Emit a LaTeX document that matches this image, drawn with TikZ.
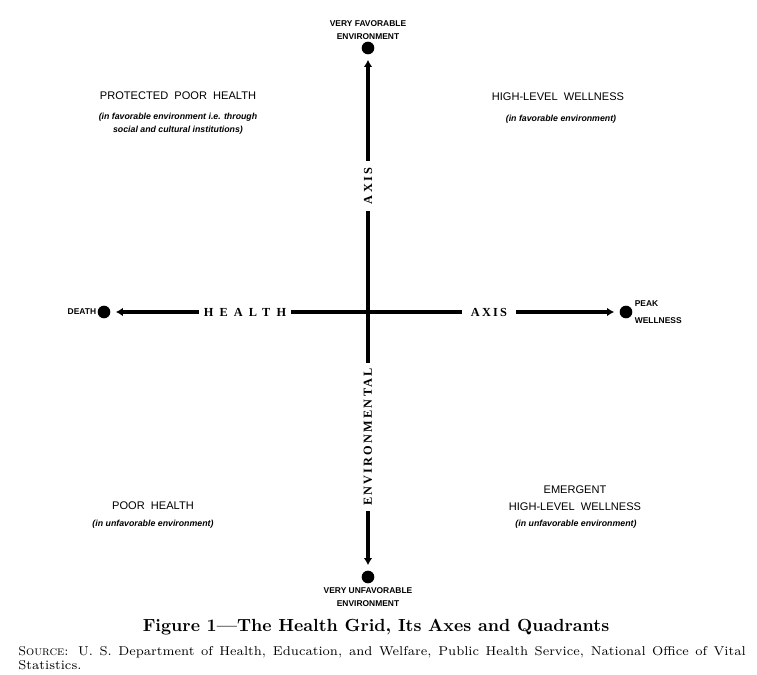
\documentclass[tikz,border=0pt]{standalone}
\usepackage{fontspec}
\usepackage{tikz}
\usetikzlibrary{arrows.meta,positioning}
\newfontfamily\gridsans{Liberation Sans}
\newfontfamily\axisfont[LetterSpace=18]{Liberation Serif}
\newfontfamily\wideaxisfont[LetterSpace=50]{Liberation Serif}

\begin{document}
\begin{tikzpicture}[x=0.02cm,y=-0.02cm,
  pole/.style={circle,fill=black,inner sep=0pt,minimum size=7.2pt},
  axisline/.style={line width=2.5pt,{Latex[length=4pt,width=5pt]}-{Latex[length=4pt,width=5pt]},shorten <=3pt,shorten >=3pt},
  axislabel/.style={fill=white,inner sep=0pt,font=\axisfont\bfseries\fontsize{7}{8}\selectfont},
  wideaxislabel/.style={fill=white,inner sep=0pt,font=\wideaxisfont\bfseries\fontsize{7}{8}\selectfont},
  endlabel/.style={font=\gridsans\bfseries\fontsize{4.8}{7.4}\selectfont,align=center,inner sep=0pt},
  quadhead/.style={font=\gridsans\fontsize{6.3}{9.6}\selectfont,align=center,inner sep=0pt},
  quadnote/.style={font=\gridsans\bfseries\itshape\fontsize{5}{7.4}\selectfont,align=center,inner sep=0pt}]
\useasboundingbox (0,0) rectangle (757,675);

\node[pole] (top) at (368,48) {};
\node[pole] (bottom) at (368,577) {};
\node[pole] (death) at (104,312) {};
\node[pole] (peak) at (626,312) {};
\draw[axisline] (death) -- (peak);
\draw[axisline] (top) -- (bottom);

\node[wideaxislabel,inner xsep=3pt] (health) at (245,312) {HEALTH};
\node[axislabel,inner xsep=5pt] (haxis) at (489,312) {AXIS};
\node[axislabel,rotate=90,inner xsep=4pt] (vaxis) at (368,186) {AXIS};
\node[axislabel,rotate=90,inner xsep=3pt] (env) at (368,437) {ENVIRONMENTAL};

\node[endlabel,above=1pt of top] (toplbl) {VERY FAVORABLE\\ENVIRONMENT};
\node[endlabel,below=2pt of bottom] (bottomlbl) {VERY UNFAVORABLE\\ENVIRONMENT};
\node[endlabel,left=0.5pt of death] (deathlbl) {DEATH};
\node[endlabel,align=left,anchor=west,font=\gridsans\bfseries\fontsize{4.8}{9.6}\selectfont] (peaklbl) at ([xshift=1pt]peak.east) {PEAK\\WELLNESS};

\node[quadhead] (pph) at (178,96) {PROTECTED\ \ POOR\ \ HEALTH};
\node[quadnote] (pphnote) at (178,124) {(in favorable environment i.e. through\\social and cultural institutions)};
\node[quadhead] (hlw) at (558,97) {HIGH-LEVEL\ \ WELLNESS};
\node[quadnote] (hlwnote) at (561,119) {(in favorable environment)};
\node[quadhead] (ph) at (153,506) {POOR\ \ HEALTH};
\node[quadnote] (phnote) at (153,524) {(in unfavorable environment)};
\node[quadhead] (ehlw) at (575,498) {EMERGENT\\HIGH-LEVEL\ \ WELLNESS};
\node[quadnote] (ehlwnote) at (576,524) {(in unfavorable environment)};

\node[font=\bfseries\fontsize{10}{12}\selectfont] (title) at (376,627) {Figure 1---The Health Grid, Its Axes and Quadrants};
\node[anchor=north west,text width=414pt,align=justify,inner sep=0pt,font=\fontsize{7.3}{8}\selectfont] (source) at (18,646) {\textsc{Source}: U. S. Department of Health, Education, and Welfare, Public Health Service, National Office of Vital\linebreak Statistics.};
\end{tikzpicture}
\end{document}
